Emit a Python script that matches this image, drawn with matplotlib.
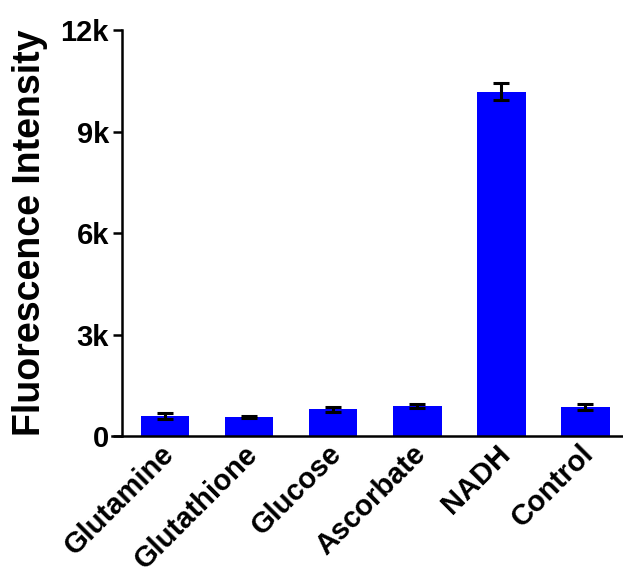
import numpy as np
import matplotlib.pyplot as plt
import matplotlib.transforms as mtransforms

plt.rcParams['font.family'] = ['Liberation Sans', 'DejaVu Sans']
plt.rcParams['font.weight'] = 'bold'

categories = ['Glutamine', 'Glutathione', 'Glucose', 'Ascorbate', 'NADH', 'Control']
means = [600, 570, 790, 890, 10180, 850]
errors = [100, 40, 80, 60, 250, 90]
yticks = [0, 3000, 6000, 9000, 12000]
ytick_labels = ['0', '3k', '6k', '9k', '12k']

fig = plt.figure(figsize=(6.23, 5.77), dpi=100)
ax = fig.add_axes([0.18, 0.244, 0.82, 0.704])

x = np.arange(len(categories))
ax.bar(x, means, width=0.58, color='#0000ff', zorder=2)
ax.errorbar(x, means, yerr=errors, fmt='none', ecolor='black',
            elinewidth=2.2, capsize=5.5, capthick=2.2, zorder=3)

# x axis runs a bit past the y axis on the left
ax.set_xlim(-0.63, 5.45)
ax.set_ylim(0, 12000)
ax.spines['left'].set_position(('data', -0.512))
ax.spines['right'].set_visible(False)
ax.spines['top'].set_visible(False)
for s in ('left', 'bottom'):
    ax.spines[s].set_linewidth(1.8)

ax.set_yticks(yticks)
ax.set_yticklabels(ytick_labels, fontsize=21, fontweight='bold')
ax.tick_params(axis='y', length=6.5, width=1.8, pad=3)
ax.set_xticks(x)
ax.set_xticklabels(categories, fontsize=21, fontweight='bold',
                   rotation=45, ha='right', va='top', rotation_mode='anchor')
ax.tick_params(axis='x', length=0, pad=2.5)
shift = mtransforms.ScaledTranslation(-4 / 72, 0, fig.dpi_scale_trans)
for lbl in ax.get_xticklabels():
    lbl.set_transform(lbl.get_transform() + shift)

ax.set_ylabel('Fluorescence Intensity', fontsize=27, fontweight='bold')
ax.yaxis.set_label_coords(-0.125, 0.5)

fig.savefig('out.png', dpi=100)
